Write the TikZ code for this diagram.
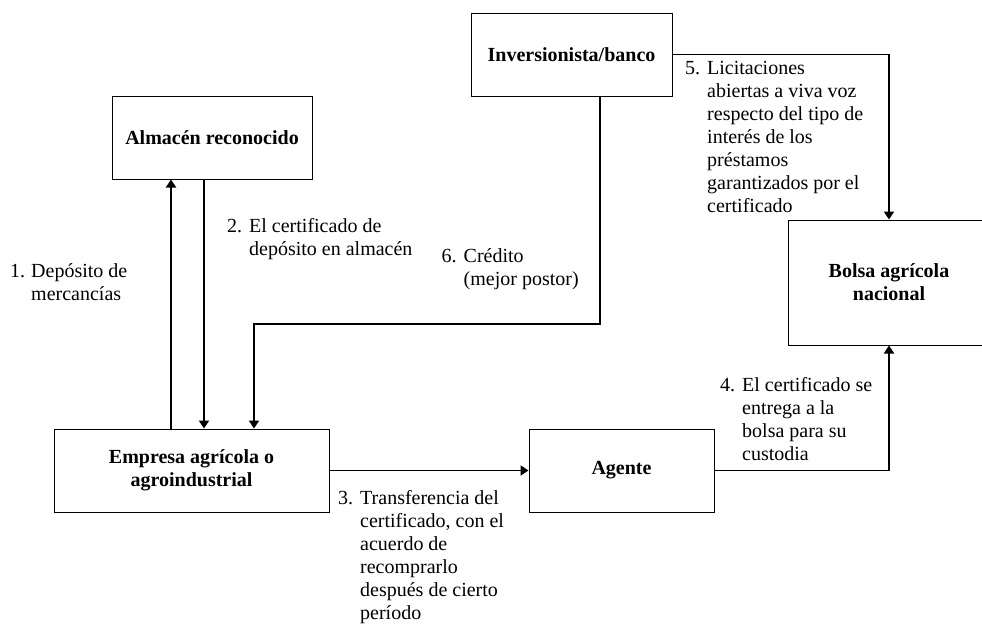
\documentclass[tikz,border=0pt]{standalone}
\usepackage{fontspec}
\setmainfont{Liberation Serif}
\usetikzlibrary{arrows.meta}

\begin{document}
\begin{tikzpicture}[x=1pt, y=-1pt,
  font=\fontsize{20}{23}\selectfont,
  caja/.style={draw, line width=1pt, inner sep=0pt, align=center, minimum height=83pt, font=\fontsize{20}{23}\selectfont\bfseries},
  flecha/.style={-{Triangle[length=8pt,width=10pt]}, line width=1.8pt},
  paso/.style={anchor=north west, inner sep=0pt}]
  \useasboundingbox (0,0) rectangle (982,624);
  \clip (0,0) rectangle (982,624);

  \node[caja, minimum width=200pt] (alm) at (212,137.5) {Almacén reconocido};
  \node[caja, minimum width=201pt] (inv) at (571.5,54.5) {Inversionista/banco};
  \node[caja, minimum width=202pt, minimum height=125pt] (bol) at (889,282.5) {Bolsa agrícola\\nacional};
  \node[caja, minimum width=275pt] (emp) at (191.5,470.5) {Empresa agrícola o\\agroindustrial};
  \node[caja, minimum width=185pt] (age) at (621.5,470.5) {Agente};

  \draw[flecha, line width=2.8pt] (emp.north -| 171,0) -- (alm.south -| 171,0);
  \draw[flecha] (alm.south -| 204,0) -- (emp.north -| 204,0);
  \draw[flecha] (inv.south -| 600,0) -- (600,324) -| (emp.north -| 254,0);
  \draw[flecha] (emp.east) -- (age.west);
  \draw[flecha] (age.east) -| (bol.south);
  \draw[flecha] (inv.east) -| (bol.north);

  \node[paso] (lab1) at (10,261.5) {\begin{tabular}{@{}p{21pt}@{}l@{}}
    1. & Depósito de\\ & mercancías\end{tabular}};
  \node[paso] (lab2) at (227,216.5) {\begin{tabular}{@{}p{22pt}@{}l@{}}
    2. & El certificado de\\ & depósito en almacén\end{tabular}};
  \node[paso] (lab6) at (441.5,246.5) {\begin{tabular}{@{}p{22pt}@{}l@{}}
    6. & Crédito\\ & (mejor postor)\end{tabular}};
  \node[paso] (lab5) at (685,58.5) {\begin{tabular}{@{}p{22pt}@{}l@{}}
    5. & Licitaciones\\ & abiertas a viva voz\\ & respecto del tipo de\\ & interés de los\\
       & préstamos\\ & garantizados por el\\ & certificado\end{tabular}};
  \node[paso] (lab4) at (720,375.5) {\begin{tabular}{@{}p{22pt}@{}l@{}}
    4. & El certificado se\\ & entrega a la\\ & bolsa para su\\ & custodia\end{tabular}};
  \node[paso] (lab3) at (338,488.5) {\begin{tabular}{@{}p{22pt}@{}l@{}}
    3. & Transferencia del\\ & certificado, con el\\ & acuerdo de\\ & recomprarlo\\
       & después de cierto\\ & período\end{tabular}};
\end{tikzpicture}
\end{document}
